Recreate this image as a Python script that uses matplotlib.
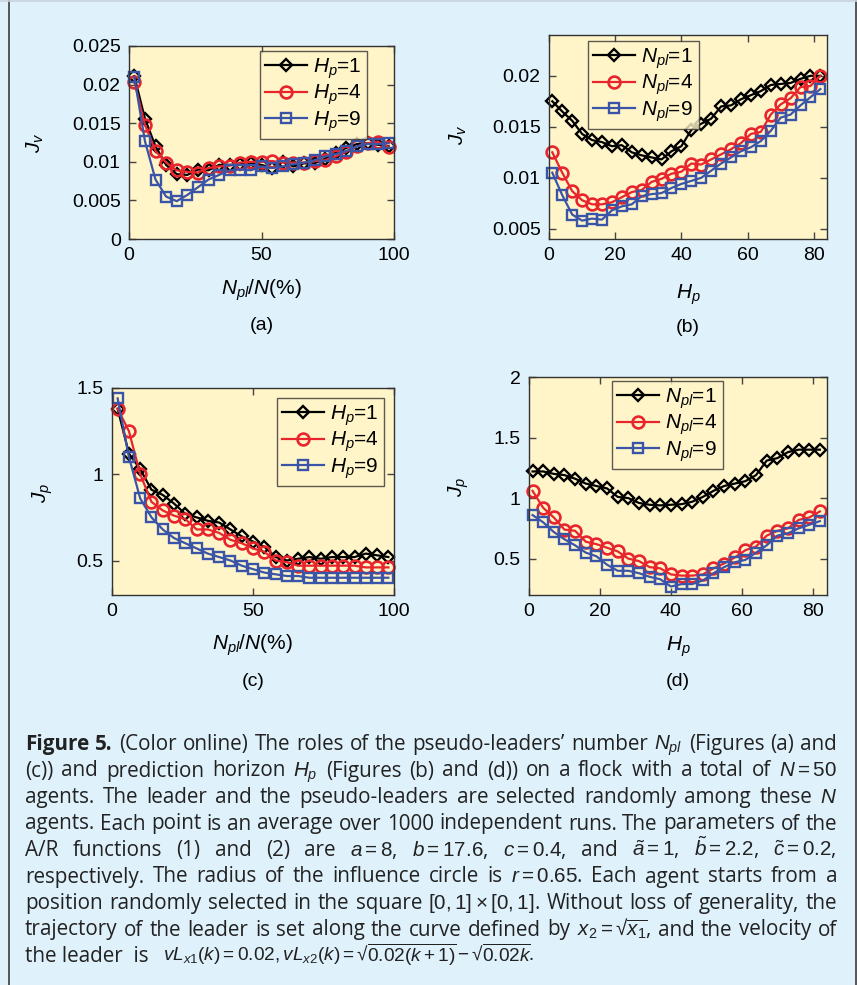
import matplotlib
matplotlib.use('Agg')
import matplotlib.pyplot as plt
from matplotlib.lines import Line2D
from matplotlib.ticker import FuncFormatter

plt.rcParams['font.family'] = ['Liberation Sans', 'DejaVu Sans']
plt.rcParams['mathtext.fontset'] = 'custom'
plt.rcParams['mathtext.rm'] = 'Liberation Sans'
plt.rcParams['mathtext.it'] = 'Liberation Sans:italic'
plt.rcParams['mathtext.bf'] = 'Liberation Sans:bold'

# x values
npl_pct = [2, 6, 10, 14, 18, 22, 26, 30, 34, 38, 42, 46, 50, 54, 58, 62, 66, 70, 74, 78, 82, 86, 90, 94, 98]
hp_vals = [1, 4, 7, 10, 13, 16, 19, 22, 25, 28, 31, 34, 37, 40, 43, 46, 49, 52, 55, 58, 61, 64, 67, 70, 73, 76, 79, 82]

# (a) Jv vs Npl/N
a_hp1 = [0.0211, 0.0156, 0.0120, 0.0096, 0.0084, 0.0083, 0.0090, 0.0089, 0.0096, 0.0096, 0.0097, 0.0098, 0.0096,
         0.0092, 0.0100, 0.0094, 0.0098, 0.0098, 0.0104, 0.0112, 0.0118, 0.0123, 0.0124, 0.0122, 0.0120]
a_hp4 = [0.0204, 0.0148, 0.0114, 0.0099, 0.0089, 0.0087, 0.0086, 0.0092, 0.0094, 0.0095, 0.0099, 0.0100, 0.0100,
         0.0101, 0.0099, 0.0099, 0.0099, 0.0101, 0.0102, 0.0107, 0.0113, 0.0120, 0.0124, 0.0126, 0.0119]
a_hp9 = [0.0210, 0.0127, 0.0077, 0.0055, 0.0049, 0.0057, 0.0067, 0.0077, 0.0083, 0.0089, 0.0090, 0.0089, 0.0094,
         0.0092, 0.0094, 0.0097, 0.0099, 0.0102, 0.0107, 0.0110, 0.0114, 0.0120, 0.0123, 0.0123, 0.0124]

# (b) Jv vs Hp
b_npl1 = [0.0175, 0.0165, 0.0156, 0.0143, 0.0137, 0.0135, 0.0131, 0.0132, 0.0125, 0.0122, 0.0120, 0.0118, 0.0126, 0.0131,
          0.0147, 0.0153, 0.0158, 0.0170, 0.0171, 0.0177, 0.0181, 0.0185, 0.0191, 0.0192, 0.0193, 0.0197, 0.0200, 0.0200]
b_npl4 = [0.0125, 0.0105, 0.0087, 0.0078, 0.0074, 0.0074, 0.0076, 0.0081, 0.0086, 0.0088, 0.0096, 0.0099, 0.0104, 0.0106,
          0.0114, 0.0113, 0.0118, 0.0123, 0.0128, 0.0134, 0.0143, 0.0145, 0.0162, 0.0172, 0.0178, 0.0189, 0.0190, 0.0200]
b_npl9 = [0.0105, 0.0083, 0.0064, 0.0058, 0.0060, 0.0059, 0.0068, 0.0072, 0.0074, 0.0082, 0.0084, 0.0085, 0.0090, 0.0094,
          0.0097, 0.0100, 0.0107, 0.0114, 0.0120, 0.0126, 0.0130, 0.0136, 0.0146, 0.0159, 0.0162, 0.0171, 0.0179, 0.0187]

# (c) Jp vs Npl/N
c_hp1 = [1.38, 1.12, 1.03, 0.91, 0.88, 0.83, 0.77, 0.75, 0.73, 0.72, 0.68, 0.64, 0.61,
         0.58, 0.52, 0.50, 0.51, 0.52, 0.51, 0.52, 0.52, 0.52, 0.54, 0.53, 0.52]
c_hp4 = [1.38, 1.25, 1.00, 0.84, 0.79, 0.76, 0.74, 0.68, 0.68, 0.66, 0.62, 0.60, 0.57,
         0.55, 0.50, 0.49, 0.47, 0.47, 0.47, 0.47, 0.47, 0.47, 0.46, 0.46, 0.46]
c_hp9 = [1.44, 1.10, 0.86, 0.75, 0.68, 0.63, 0.60, 0.57, 0.54, 0.52, 0.50, 0.47, 0.45,
         0.43, 0.42, 0.41, 0.41, 0.40, 0.40, 0.40, 0.40, 0.40, 0.40, 0.40, 0.40]

# (d) Jp vs Hp
d_npl1 = [1.22, 1.22, 1.20, 1.19, 1.16, 1.12, 1.10, 1.08, 1.01, 1.00, 0.96, 0.945, 0.94, 0.945,
          0.95, 0.97, 1.01, 1.06, 1.10, 1.12, 1.14, 1.19, 1.31, 1.33, 1.38, 1.40, 1.40, 1.40]
d_npl4 = [1.06, 0.92, 0.84, 0.74, 0.73, 0.64, 0.62, 0.59, 0.56, 0.50, 0.48, 0.43, 0.42, 0.37,
          0.36, 0.36, 0.37, 0.42, 0.46, 0.51, 0.57, 0.60, 0.69, 0.73, 0.75, 0.82, 0.84, 0.89]
d_npl9 = [0.86, 0.80, 0.72, 0.66, 0.61, 0.55, 0.52, 0.45, 0.40, 0.40, 0.38, 0.35, 0.33, 0.27,
          0.29, 0.29, 0.32, 0.38, 0.43, 0.47, 0.49, 0.55, 0.61, 0.69, 0.71, 0.75, 0.78, 0.81]

hp_labels = ['$H_p$=1', '$H_p$=4', '$H_p$=9']
npl_labels = ['$N_{pl}$=1', '$N_{pl}$=4', '$N_{pl}$=9']

caption = [
    "Figure 5. (Color online) The roles of the pseudo-leaders\u2019 number $N_{pl}$ (Figures (a) and",
    "(c)) and prediction horizon $H_p$ (Figures (b) and (d)) on a flock with a total of $N=50$",
    "agents. The leader and the pseudo-leaders are selected randomly among these $N$",
    "agents. Each point is an average over 1000 independent runs. The parameters of the",
    "A/R functions (1) and (2) are $a=8$, $b=17.6$, $c=0.4$, and $\\tilde{a}=1$, $\\tilde{b}=2.2$, $\\tilde{c}=0.2$,",
    "respectively. The radius of the influence circle is $r=0.65$. Each agent starts from a",
    "position randomly selected in the square $[0,1]\\times[0,1]$. Without loss of generality, the",
    "trajectory of the leader is set along the curve defined by $x_2=\u221a\\overline{x_1}$, and the velocity of",
]
caption_last = "the leader  is  "
caption_last_math = "$vL_{x1}(k)=0.02,vL_{x2}(k)=\u221a\\overline{0.02(k+1)}-\u221a\\overline{0.02k}$."

W, H = 857, 985
BG = '#dff1fb'
AXBG = '#fff5c9'
RED = '#e8242c'
BLUE = '#3a55a8'

fig = plt.figure(figsize=(W / 100, H / 100), dpi=100, facecolor=BG)


def px_axes(l, t, r, b):
    return fig.add_axes([l / W, 1 - b / H, (r - l) / W, (b - t) / H], facecolor=AXBG)


styles = [dict(color='k', marker='D', ms=6.5, mfc='none', mew=1.7),
          dict(color=RED, marker='o', ms=8.5, mfc='none', mew=1.9),
          dict(color=BLUE, marker='s', ms=6.5, mfc='none', mew=1.7)]

panels = [
    ((129, 46, 394, 239), npl_pct, [a_hp1, a_hp4, a_hp9], hp_labels, (0, 100), (0, 0.025),
     [0, 50, 100], [0, 0.005, 0.01, 0.015, 0.02, 0.025], (260, 51)),
    ((549, 35, 827, 239), hp_vals, [b_npl1, b_npl4, b_npl9], npl_labels, (0, 84), (0.004, 0.024),
     [0, 20, 40, 60, 80], [0.005, 0.01, 0.015, 0.02], (588, 41)),
    ((112, 388, 394, 595), npl_pct, [c_hp1, c_hp4, c_hp9], hp_labels, (0, 100), (0.3, 1.5),
     [0, 50, 100], [0.5, 1, 1.5], (277, 398)),
    ((529, 377, 827, 595), hp_vals, [d_npl1, d_npl4, d_npl9], npl_labels, (0, 84), (0.2, 2),
     [0, 20, 40, 60, 80], [0.5, 1, 1.5, 2], (612, 381)),
]

for box, xs, series, labels, xl, yl, xt, yt, leg in panels:
    ax = px_axes(*box)
    for ys, st, lab in zip(series, styles, labels):
        ax.plot(xs, ys, lw=1.6, label=lab, clip_on=False, **st)
    ax.set_xlim(xl)
    ax.set_ylim(yl)
    ax.set_xticks(xt)
    ax.set_yticks(yt)
    ax.yaxis.set_major_formatter(FuncFormatter(lambda v, p: '%g' % v))
    ax.tick_params(direction='in', top=True, right=True, length=5, width=1, color='#444',
                   labelsize=14, pad=6)
    for s in ax.spines.values():
        s.set_color('#333')
        s.set_linewidth(1.0)
    lg = ax.legend(loc='upper left', bbox_to_anchor=(leg[0] / W, 1 - leg[1] / H),
                   bbox_transform=fig.transFigure, fontsize=15, frameon=True, fancybox=False,
                   handlelength=2.0, handletextpad=0.3, labelspacing=0.1, borderpad=0.25,
                   borderaxespad=0)
    lg.get_frame().set_edgecolor('#333')
    lg.get_frame().set_facecolor(AXBG)
    lg.get_frame().set_linewidth(1.0)


def ftext(x, y, s, **kw):
    fig.text(x / W, 1 - y / H, s, ha='center', va='center', **kw)


ftext(262, 290, '$N_{pl}/N$(%)', fontsize=15)
ftext(262, 325, '(a)', fontsize=14)
ftext(688, 295, '$H_p$', fontsize=15)
ftext(688, 327, '(b)', fontsize=14)
ftext(253, 645, '$N_{pl}/N$(%)', fontsize=15)
ftext(253, 682, '(c)', fontsize=14)
ftext(678, 647, '$H_p$', fontsize=15)
ftext(678, 682, '(d)', fontsize=14)
ftext(35, 143, '$J_v$', fontsize=15, rotation=90)
ftext(458, 135, '$J_v$', fontsize=15, rotation=90)
ftext(43, 493, '$J_p$', fontsize=15, rotation=90)
ftext(459, 487, '$J_p$', fontsize=15, rotation=90)

# frame lines of the box
fig.add_artist(Line2D([8.5 / W, 8.5 / W], [0, 1], transform=fig.transFigure, color='#555', lw=1.4))
fig.add_artist(Line2D([855.5 / W, 855.5 / W], [0, 1], transform=fig.transFigure, color='#555', lw=1.4))
fig.add_artist(Line2D([0, 1], [1 - 1 / H, 1 - 1 / H], transform=fig.transFigure, color='#c8d4dc', lw=1.2))

# justified caption
renderer = fig.canvas.get_renderer()
cap_font = ['Open Sans', 'DejaVu Sans']
x0, x1 = 25, 837


def word_widths(size):
    out = []
    for i, line in enumerate(caption):
        ws = []
        for j, w in enumerate(line.split()):
            t = fig.text(0, 0, w, family=cap_font, fontsize=size,
                         fontweight='bold' if (i == 0 and j < 2) else 'normal')
            ws.append(t.get_window_extent(renderer).width)
            t.remove()
        out.append(ws)
    return out


# pick the font size so the lines fill the width with near-normal word spacing
base = 12.0
ws0 = word_widths(base)
need = max(sum(ws) + 0.28 * base * 100 / 72 * (len(ws) - 1) for ws in ws0)
cap_size = base * (x1 - x0) / need

for i, line in enumerate(caption):
    yb = 1 - (750 + i * 26.5) / H
    words = line.split()
    items = []
    for j, w in enumerate(words):
        bold = (i == 0 and j < 2)
        t = fig.text(0, yb, w, family=cap_font, fontsize=cap_size, va='baseline', color='#222',
                     fontweight='bold' if bold else 'normal')
        items.append((t, t.get_window_extent(renderer).width))
    total = sum(wd for _, wd in items)
    gap = (x1 - x0 - total) / (len(items) - 1)
    x = x0
    for t, wd in items:
        t.set_x(x / W)
        x += wd + gap

# last line, left aligned
yb = 1 - (750 + len(caption) * 26.5) / H
t = fig.text(x0 / W, yb, caption_last, family=cap_font, fontsize=cap_size, va='baseline', color='#222')
wl = t.get_window_extent(renderer).width
fig.text((x0 + wl + 4) / W, yb, caption_last_math, family=cap_font, fontsize=cap_size * 0.92,
         va='baseline', color='#222')

fig.savefig('out.png', dpi=100, facecolor=BG)
